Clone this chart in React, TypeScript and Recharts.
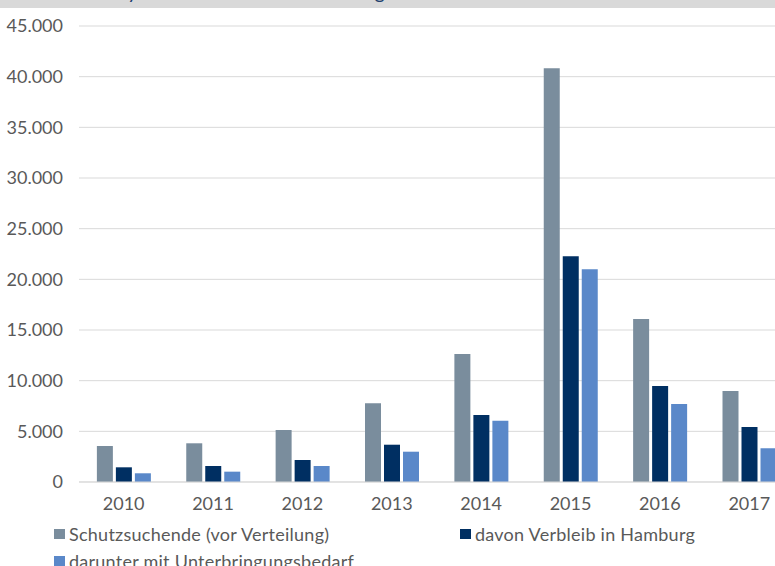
import React from "react";
import { Bar, BarChart, CartesianGrid, XAxis, YAxis } from "recharts";

const years = ["2010", "2011", "2012", "2013", "2014", "2015", "2016", "2017"];
const schutzsuchende = [3550, 3820, 5130, 7770, 12630, 40830, 16090, 8980];
const verbleibHamburg = [1450, 1580, 2170, 3680, 6610, 22270, 9470, 5430];
const unterbringung = [860, 1020, 1580, 2990, 6050, 20990, 7700, 3330];
const yTicks = [0, 5000, 10000, 15000, 20000, 25000, 30000, 35000, 40000, 45000];

const seriesNames = {
  a: "Schutzsuchende (vor Verteilung)",
  b: "davon Verbleib in Hamburg",
  c: "darunter mit Unterbringungsbedarf",
};
const colors = { a: "#7a8d9d", b: "#002f62", c: "#5a88c9" };

const data = years.map((year, i) => ({
  year,
  a: schutzsuchende[i],
  b: verbleibHamburg[i],
  c: unterbringung[i],
}));

const fmt = (v: number) => String(v).replace(/\B(?=(\d{3})+(?!\d))/g, ".");

const FONT = "Lato, 'Open Sans', sans-serif";
const TEXT = "#595959";

function LegendItem({ k, left, top }: { k: "a" | "b" | "c"; left: number; top: number }) {
  return (
    <div style={{ position: "absolute", left, top, display: "flex", alignItems: "center", whiteSpace: "nowrap" }}>
      <span style={{ width: 11, height: 10, background: colors[k], marginRight: 4, display: "inline-block" }} />
      <span style={{ fontSize: 18, letterSpacing: 0.25, color: TEXT, fontFamily: FONT }}>{seriesNames[k]}</span>
    </div>
  );
}

export default function App() {
  return (
    <div style={{ position: "fixed", left: 0, top: 0, width: 775, height: 566, overflow: "hidden", background: "#fff" }}>
      {/* title band, mostly cut off at the top edge */}
      <svg width={775} height={8} style={{ position: "absolute", left: 0, top: 0, background: "#d9d9d9" }}>
        <text x={100} y={-1} fontSize={20} fill="#1f3f6e" fontFamily={FONT} textLength={285} lengthAdjust="spacing">
          Asylsuchende in Hamburg
        </text>
      </svg>
      <div style={{ position: "absolute", left: 0, top: 0 }}>
        <BarChart
          width={800}
          height={530}
          data={data}
          margin={{ top: 26, right: 6, bottom: 8, left: 0 }}
          barCategoryGap="20%"
          barGap={3}
        >
          <CartesianGrid vertical={false} stroke="#d9d9d9" />
          <XAxis
            dataKey="year"
            height={40}
            tickLine={false}
            axisLine={{ stroke: "#d9d9d9" }}
            tickMargin={9}
            tick={{ fontSize: 18, fill: TEXT, fontFamily: FONT }}
          />
          <YAxis
            width={79}
            domain={[0, 45000]}
            ticks={yTicks}
            tickFormatter={fmt}
            axisLine={false}
            tickLine={false}
            tickMargin={10}
            tick={{ fontSize: 18, fill: TEXT, fontFamily: FONT }}
          />
          <Bar dataKey="a" fill={colors.a} isAnimationActive={false} />
          <Bar dataKey="b" fill={colors.b} isAnimationActive={false} />
          <Bar dataKey="c" fill={colors.c} isAnimationActive={false} />
        </BarChart>
      </div>
      <LegendItem k="a" left={54} top={523} />
      <LegendItem k="b" left={460} top={523} />
      <LegendItem k="c" left={54} top={550} />
    </div>
  );
}
